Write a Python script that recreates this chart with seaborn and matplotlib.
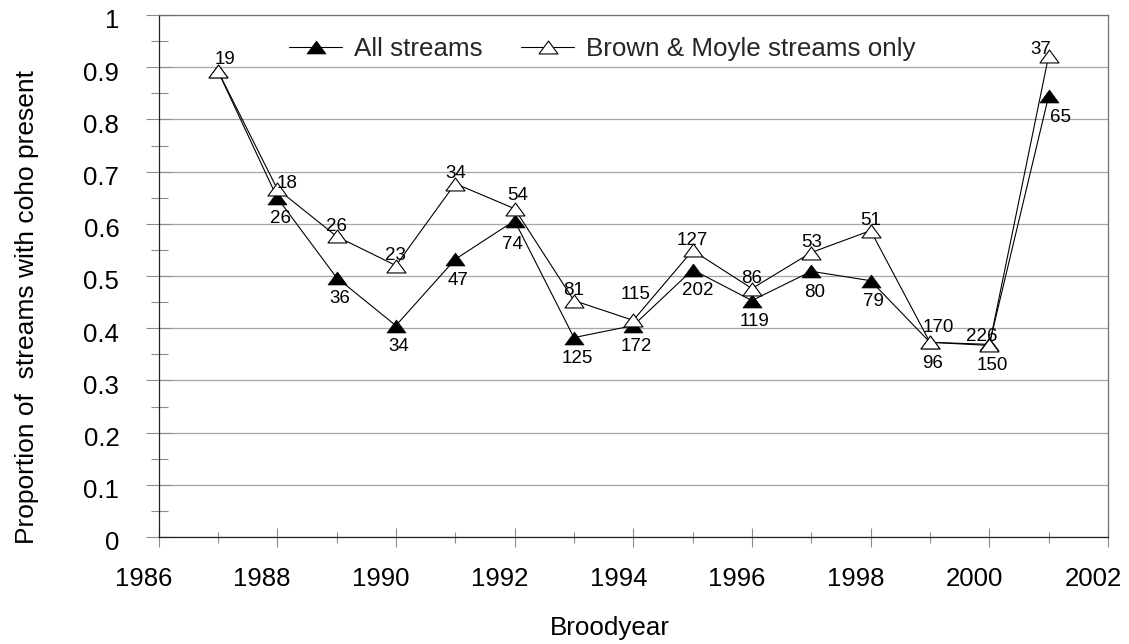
import matplotlib
matplotlib.use("Agg")
import matplotlib.pyplot as plt
import matplotlib.transforms as mtransforms
from matplotlib.path import Path
from matplotlib.ticker import MultipleLocator, FuncFormatter
import pandas as pd
import seaborn as sns

# ---------------- data ----------------
years = [1987, 1988, 1989, 1990, 1991, 1992, 1993, 1994,
         1995, 1996, 1997, 1998, 1999, 2000, 2001]
all_streams = [0.893, 0.650, 0.497, 0.405, 0.532, 0.606, 0.382, 0.405,
               0.512, 0.453, 0.509, 0.491, 0.373, 0.369, 0.845]
brown_moyle = [0.893, 0.667, 0.576, 0.520, 0.677, 0.629, 0.453, 0.415,
               0.549, 0.476, 0.545, 0.587, 0.373, 0.367, 0.922]
all_streams_n = [None, 26, 36, 34, 47, 74, 125, 172, 202, 119, 80, 79, 96, 150, 65]
brown_moyle_n = [19, 18, 26, 23, 34, 54, 81, 115, 127, 86, 53, 51, 170, 226, 37]
series_names = ["All streams", "Brown & Moyle streams only"]
x_label = "Broodyear"
y_label = "Proportion of  streams with coho present"

# ---------------- style ----------------
sns.set_theme(style="white")
plt.rcParams['font.family'] = ['Liberation Sans', 'DejaVu Sans']

DPI = 100
W, H = 1129, 644
PX = 72.0 / DPI  # pixels -> points
fig = plt.figure(figsize=(W / DPI, H / DPI), dpi=DPI)
L, R, T, B = 158.5, 1108.0, 15.0, 537.0
ax = fig.add_axes([L / W, 1 - B / H, (R - L) / W, (B - T) / H])

df = pd.DataFrame({"year": years, "all": all_streams, "bm": brown_moyle})

tri = Path([(-1, -0.68), (1, -0.68), (0, 0.68), (-1, -0.68)],
           [Path.MOVETO, Path.LINETO, Path.LINETO, Path.CLOSEPOLY])

sns.lineplot(data=df, x="year", y="all", ax=ax, color="black", lw=0.8,
             marker=tri, markersize=19 * PX, markerfacecolor="black",
             markeredgecolor="black", markeredgewidth=0.5,
             errorbar=None, label=series_names[0], zorder=3)
sns.lineplot(data=df, x="year", y="bm", ax=ax, color="black", lw=0.8,
             marker=tri, markersize=19 * PX, markerfacecolor="white",
             markeredgecolor="black", markeredgewidth=0.8,
             errorbar=None, label=series_names[1], zorder=4)

# data labels (sample sizes)
white_nudge = {1987: (7, -13), 1988: (10, -7), 1992: (3, -15), 1994: (2, -28),
               1999: (8, -17), 2000: (-8, -11), 2001: (-8, -8)}
black_nudge = {1992: (-2, 22), 1995: (5, 19), 2001: (12, 20)}
for yr, v, n in zip(years, brown_moyle, brown_moyle_n):
    if n is None:
        continue
    dx, dy = white_nudge.get(yr, (0, -12))
    ax.annotate(str(n), (yr, v), xytext=(dx * PX, -dy * PX),
                textcoords="offset points", ha="center", va="center_baseline",
                fontsize=13.5, color="black", zorder=6)
for yr, v, n in zip(years, all_streams, all_streams_n):
    if n is None:
        continue
    dx, dy = black_nudge.get(yr, (3, 19))
    ax.annotate(str(n), (yr, v), xytext=(dx * PX, -dy * PX),
                textcoords="offset points", ha="center", va="center_baseline",
                fontsize=13.5, color="black", zorder=6)

# axes limits / ticks
ax.set_xlim(1986, 2002)
ax.set_ylim(0, 1)
ax.xaxis.set_major_locator(MultipleLocator(2))
ax.xaxis.set_minor_locator(MultipleLocator(1))
ax.yaxis.set_major_locator(MultipleLocator(0.1))
ax.yaxis.set_minor_locator(MultipleLocator(0.05))
ax.yaxis.set_major_formatter(FuncFormatter(lambda v, p: f"{v:g}"))
ax.xaxis.set_major_formatter(FuncFormatter(lambda v, p: f"{int(round(v))}"))

tick_col = "#8c8c8c"
ax.tick_params(axis="x", which="major", direction="inout", length=19 * PX,
               width=0.8, color=tick_col, pad=14.5, labelsize=18.5,
               labelcolor="black", bottom=True)
ax.tick_params(axis="x", which="minor", direction="inout", length=11 * PX,
               width=0.8, color=tick_col, bottom=True)
ax.tick_params(axis="y", which="major", direction="inout", length=27 * PX,
               width=0.8, color=tick_col, pad=18.5, labelsize=18.5,
               labelcolor="black", left=True)
ax.tick_params(axis="y", which="minor", direction="inout", length=17 * PX,
               width=0.8, color=tick_col, left=True)

# horizontal grid
ax.grid(False)
ax.yaxis.grid(True, which="major", color="#a6a6a6", lw=0.9)
ax.set_axisbelow(True)

# spines
for s in ["left", "bottom"]:
    ax.spines[s].set_color("#222222")
    ax.spines[s].set_linewidth(0.9)
for s in ["top", "right"]:
    ax.spines[s].set_color("#6e6e6e")
    ax.spines[s].set_linewidth(0.9)

# labels
ax.set_xlabel(x_label, fontsize=18.7, color="black")
ax.set_ylabel(y_label, fontsize=19, color="black")
ax.xaxis.set_label_coords((610 - L) / (R - L), (B - 616) / (B - T))
ax.yaxis.set_label_coords((39 - L) / (R - L), (B - 307.5) / (B - T))

# legend
leg = ax.legend(loc="upper left", bbox_to_anchor=((289 - L) / (R - L), (B - 37) / (B - T)),
                ncol=2, frameon=False, fontsize=18.7, handlelength=2.05,
                handletextpad=0.45, columnspacing=1.48, borderpad=0,
                borderaxespad=0)

# shift tick labels like the original
fig.canvas.draw()
for lab in ax.get_xticklabels():
    lab.set_transform(lab.get_transform() +
                      mtransforms.ScaledTranslation(-15 / DPI, 0, fig.dpi_scale_trans))
for lab in ax.get_yticklabels():
    lab.set_transform(lab.get_transform() +
                      mtransforms.ScaledTranslation(0, -4 / DPI, fig.dpi_scale_trans))

fig.savefig("out.png", dpi=DPI)
